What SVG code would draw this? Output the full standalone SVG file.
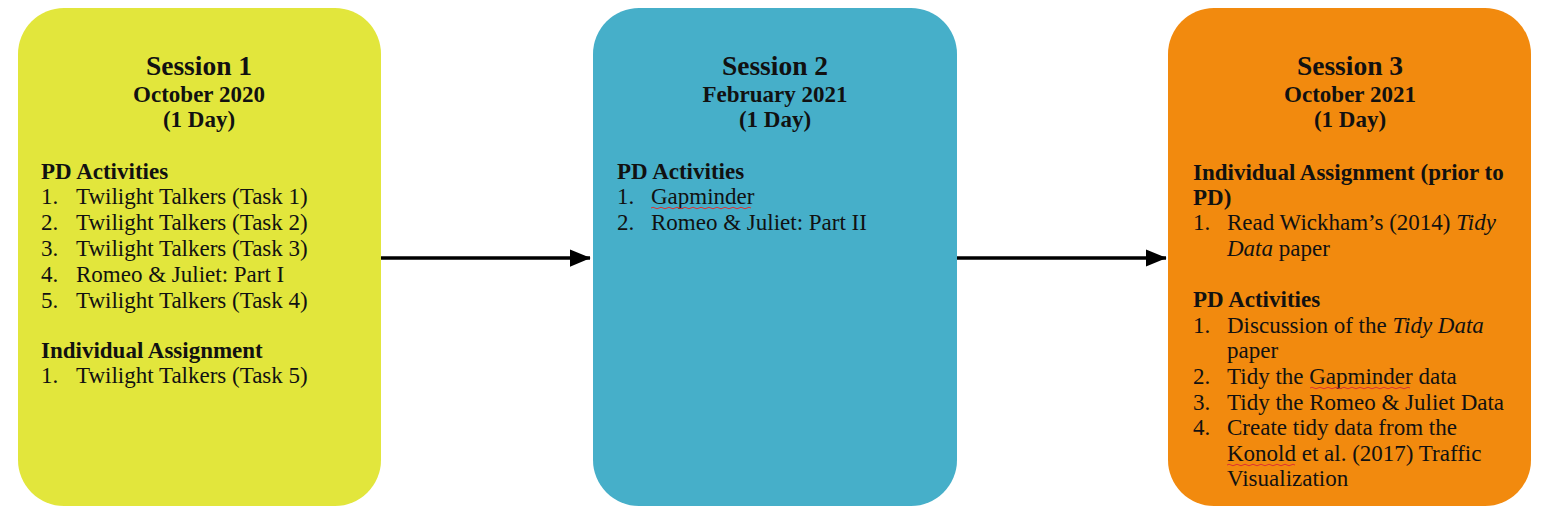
<svg xmlns="http://www.w3.org/2000/svg" width="1549" height="528" viewBox="0 0 1549 528">
<style>
text{font-family:"Liberation Serif","Times New Roman",serif;fill:#111;}
.h1{font-size:27.5px;font-weight:bold;text-anchor:middle;}
.h2{font-size:23px;font-weight:bold;text-anchor:middle;}
.sh{font-size:23px;font-weight:bold;}
.it{font-size:23px;}
.sq{fill:none;stroke:#d33;stroke-width:1;}
</style>
<defs>
<marker id="ah" markerWidth="6" markerHeight="5" refX="5.8" refY="2.5" orient="auto" markerUnits="strokeWidth">
<path d="M0,0 L6,2.5 L0,5 Z" fill="#000"/>
</marker>
</defs>
<g id="session1">
<rect x="18" y="8" width="363" height="498" rx="46" fill="#E2E63C"/>
<text class="h1" x="199" y="75">Session 1</text>
<text class="h2" x="199" y="102">October 2020</text>
<text class="h2" x="199" y="127">(1 Day)</text>
<text class="sh" x="41" y="179">PD Activities</text>
<text class="it" x="41" y="204">1.</text><text class="it" x="76" y="204">Twilight Talkers (Task 1)</text>
<text class="it" x="41" y="230">2.</text><text class="it" x="76" y="230">Twilight Talkers (Task 2)</text>
<text class="it" x="41" y="256">3.</text><text class="it" x="76" y="256">Twilight Talkers (Task 3)</text>
<text class="it" x="41" y="282">4.</text><text class="it" x="76" y="282">Romeo &amp; Juliet: Part I</text>
<text class="it" x="41" y="308">5.</text><text class="it" x="76" y="308">Twilight Talkers (Task 4)</text>
<text class="sh" x="41" y="358">Individual Assignment</text>
<text class="it" x="41" y="383">1.</text><text class="it" x="76" y="383">Twilight Talkers (Task 5)</text>
</g>
<g id="session2">
<rect x="593" y="8" width="364" height="498" rx="46" fill="#46AFC9"/>
<text class="h1" x="775" y="75">Session 2</text>
<text class="h2" x="775" y="102">February 2021</text>
<text class="h2" x="775" y="127">(1 Day)</text>
<text class="sh" x="617" y="179">PD Activities</text>
<text class="it" x="617" y="204">1.</text><text class="it" x="651" y="204">Gapminder</text>
<path class="sq" d="M651,208 q2,-1.5 4,0 t4,0 t4,0 t4,0 t4,0 t4,0 t4,0 t4,0 t4,0 t4,0 t4,0 t4,0 t4,0 t4,0 t4,0 t4,0 t4,0 t4,0 t4,0 t4,0 t4,0 t4,0 t4,0 t4,0 t4,0"/>
<text class="it" x="617" y="230">2.</text><text class="it" x="651" y="230">Romeo &amp; Juliet: Part II</text>
</g>
<g id="session3">
<rect x="1168" y="8" width="363" height="498" rx="46" fill="#F28A0E"/>
<text class="h1" x="1350" y="75">Session 3</text>
<text class="h2" x="1350" y="102">October 2021</text>
<text class="h2" x="1350" y="127">(1 Day)</text>
<text class="sh" x="1193" y="180">Individual Assignment (prior to</text>
<text class="sh" x="1193" y="205">PD)</text>
<text class="it" x="1193" y="230">1.</text><text class="it" x="1227" y="230">Read Wickham’s (2014) <tspan font-style="italic">Tidy</tspan></text>
<text class="it" x="1227" y="256"><tspan font-style="italic">Data</tspan> paper</text>
<text class="sh" x="1193" y="307">PD Activities</text>
<text class="it" x="1193" y="333">1.</text><text class="it" x="1227" y="333">Discussion of the <tspan font-style="italic">Tidy Data</tspan></text>
<text class="it" x="1227" y="358">paper</text>
<text class="it" x="1193" y="384">2.</text><text class="it" x="1227" y="384">Tidy the Gapminder data</text>
<path class="sq" d="M1310,388 q2,-1.5 4,0 t4,0 t4,0 t4,0 t4,0 t4,0 t4,0 t4,0 t4,0 t4,0 t4,0 t4,0 t4,0 t4,0 t4,0 t4,0 t4,0 t4,0 t4,0 t4,0 t4,0 t4,0 t4,0 t4,0 t4,0"/>
<text class="it" x="1193" y="410">3.</text><text class="it" x="1227" y="410">Tidy the Romeo &amp; Juliet Data</text>
<text class="it" x="1193" y="435">4.</text><text class="it" x="1227" y="435">Create tidy data from the</text>
<text class="it" x="1227" y="461">Konold et al. (2017) Traffic</text>
<path class="sq" d="M1227,465 q2,-1.5 4,0 t4,0 t4,0 t4,0 t4,0 t4,0 t4,0 t4,0 t4,0 t4,0 t4,0 t4,0 t4,0 t4,0 t4,0 t4,0 t4,0"/>
<text class="it" x="1227" y="486">Visualization</text>
</g>
<g id="connectors" stroke="#000" stroke-width="3.5" fill="none">
<line x1="381" y1="258" x2="590" y2="258" marker-end="url(#ah)"/>
<line x1="957" y1="258" x2="1166" y2="258" marker-end="url(#ah)"/>
</g>
</svg>
